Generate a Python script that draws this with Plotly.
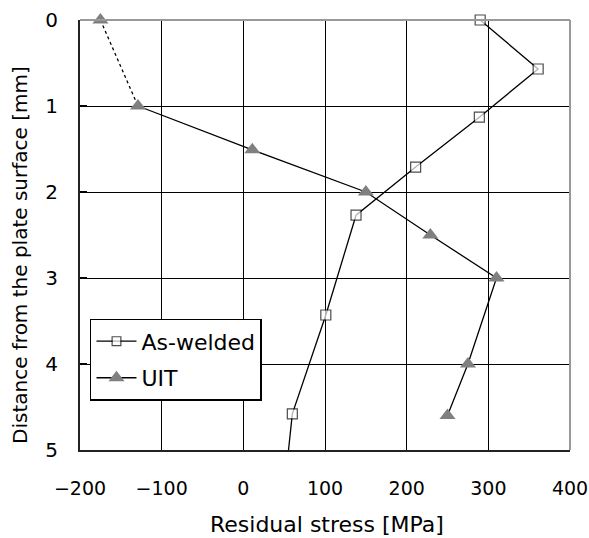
import plotly.graph_objects as go

# As-welded data (stress MPa, depth mm)
aw_stress = [290, 361, 289, 211, 138, 101, 60, 55]
aw_depth = [0.0, 0.57, 1.13, 1.71, 2.27, 3.43, 4.58, 5.03]

# UIT data
uit_stress = [-175, -129, 11, 150, 229, 310, 275, 250]
uit_depth = [0.0, 1.0, 1.51, 2.0, 2.5, 3.0, 4.0, 4.6]

x_ticks = [-200, -100, 0, 100, 200, 300, 400]
y_ticks = [0, 1, 2, 3, 4, 5]

x_title = "Residual stress [MPa]"
y_title = "Distance from the plate surface [mm]"

FONT = "DejaVu Sans"
BLACK = "#000000"
GRAY = "#808080"

fig = go.Figure()

# dotted first UIT segment
fig.add_trace(go.Scatter(
    x=uit_stress[:2], y=uit_depth[:2], mode="lines",
    line=dict(color=BLACK, width=1.3, dash="dot"),
    showlegend=False, hoverinfo="skip", cliponaxis=False))

# As-welded
aw_sizes = [10] * (len(aw_stress) - 1) + [0]
fig.add_trace(go.Scatter(
    x=aw_stress, y=aw_depth, mode="lines+markers", name="As-welded",
    legendgroup="aw",
    line=dict(color=BLACK, width=1.3),
    marker=dict(symbol="square", size=aw_sizes, color="white",
                line=dict(color=BLACK, width=1.2)),
    cliponaxis=False))

# UIT (isolated first marker, then solid line)
ux = [uit_stress[0], None] + uit_stress[1:]
uy = [uit_depth[0], None] + uit_depth[1:]
fig.add_trace(go.Scatter(
    x=ux, y=uy, mode="lines+markers", name="UIT", connectgaps=False,
    legendgroup="uit",
    line=dict(color=BLACK, width=1.3),
    marker=dict(symbol="triangle-up", size=14, color=GRAY,
                line=dict(width=0)),
    cliponaxis=False))

fig.update_layout(
    width=589, height=538,
    margin=dict(l=80, r=19, t=20, b=88),
    paper_bgcolor="white", plot_bgcolor="white",
    font=dict(family=FONT, size=21, color=BLACK),
    legend=dict(x=0.0204, y=0.305, xanchor="left", yanchor="top",
                bgcolor="white", bordercolor=BLACK, borderwidth=1.5,
                font=dict(family=FONT, size=22, color=BLACK),
                itemwidth=40, tracegroupgap=5),
    shapes=[
        dict(type="line", xref="paper", yref="paper", x0=0, x1=1, y0=1, y1=1,
             line=dict(color="#999999", width=2)),
        dict(type="line", xref="paper", yref="paper", x0=1, x1=1, y0=0, y1=1,
             line=dict(color="#999999", width=2)),
    ],
    annotations=[
        dict(text=x_title, xref="paper", yref="paper", x=0.504, y=0,
             xanchor="center", yanchor="middle", yshift=-74, showarrow=False,
             font=dict(family=FONT, size=22, color=BLACK)),
        dict(text=y_title, xref="paper", yref="paper", x=0, y=0.5,
             xanchor="center", yanchor="middle", xshift=-60, yshift=-20,
             textangle=-90, showarrow=False,
             font=dict(family=FONT, size=20, color=BLACK)),
    ],
)

fig.update_xaxes(
    range=[-200, 400], tickvals=x_ticks,
    ticktext=[str(v).replace("-", "\u2212") for v in x_ticks],
    showgrid=True, gridcolor=BLACK, gridwidth=1.3, zeroline=False,
    showline=True, linecolor="#222222", linewidth=2,
    ticks="", ticklabelstandoff=20, automargin=False,
    ticklabeloverflow="allow",
    tickfont=dict(family=FONT, size=19),
)
fig.update_yaxes(
    range=[5, 0], tickvals=y_ticks,
    showgrid=True, gridcolor=BLACK, gridwidth=1.3, zeroline=False,
    showline=True, linecolor="#222222", linewidth=2,
    ticks="inside", ticklen=7, tickcolor=BLACK, tickwidth=1.5,
    ticklabelstandoff=16, automargin=False,
    tickfont=dict(family=FONT, size=20),
)

fig.write_html(
    "out.html",
    config={"displayModeBar": False},
    post_script="document.body.style.margin='0';document.body.style.overflow='hidden';",
)
